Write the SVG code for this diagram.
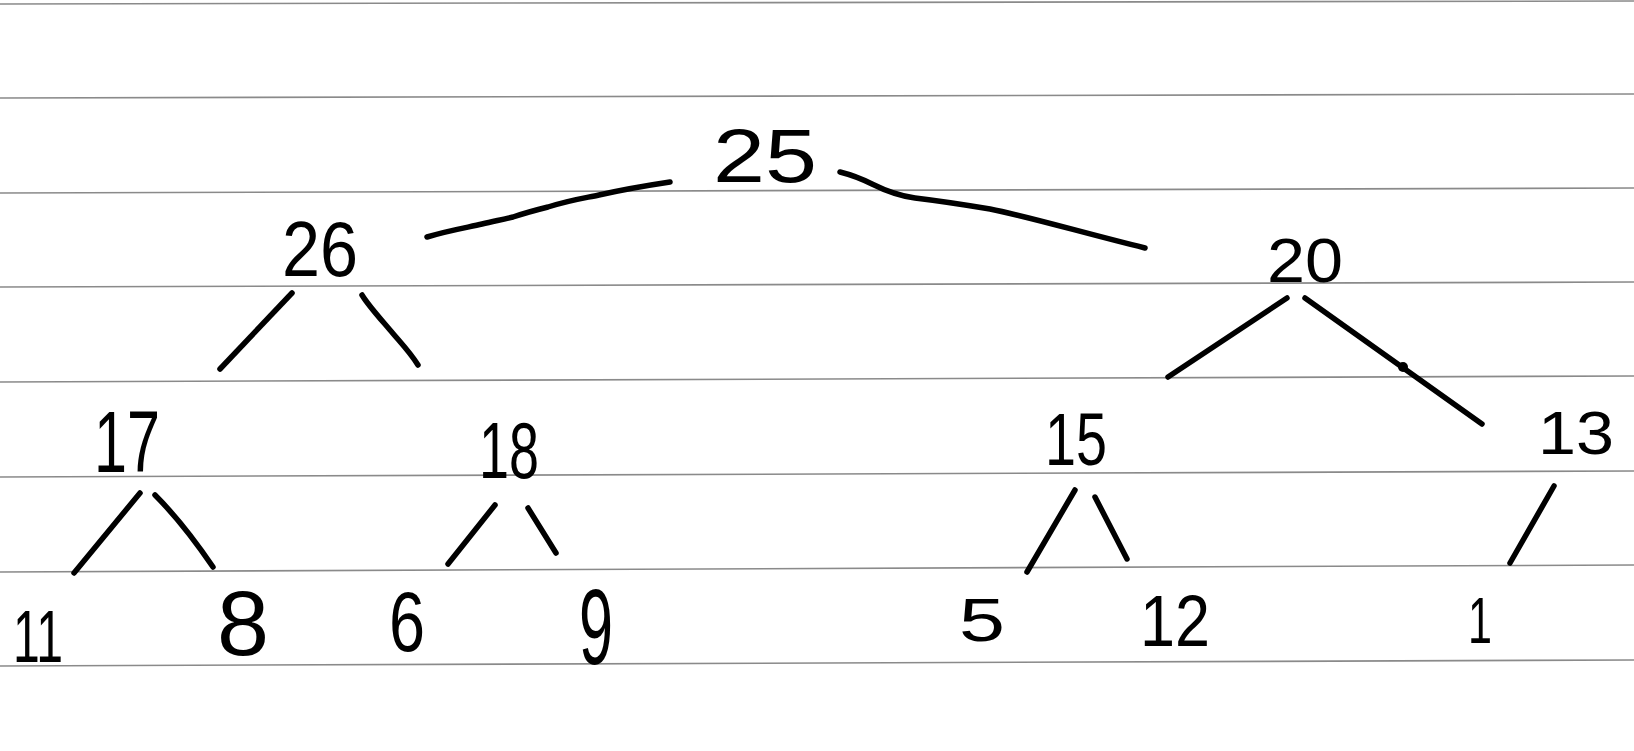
<svg xmlns="http://www.w3.org/2000/svg" width="1634" height="751" viewBox="0 0 1634 751">
<style>
.rule{stroke:#8a8a8a;stroke-width:1.6;fill:none}
.edge{stroke:#000;stroke-width:5.5;fill:none;stroke-linecap:round;stroke-linejoin:round}
.lbl{font-family:"Liberation Sans",Arial,sans-serif;fill:#000}
</style>
<rect width="1634" height="751" fill="#ffffff"/>
<g id="rules">
<line class="rule" x1="0" y1="4" x2="1634" y2="1"/>
<line class="rule" x1="0" y1="98" x2="1634" y2="94"/>
<line class="rule" x1="0" y1="193" x2="1634" y2="188"/>
<line class="rule" x1="0" y1="287" x2="1634" y2="282"/>
<line class="rule" x1="0" y1="382" x2="1634" y2="376"/>
<line class="rule" x1="0" y1="477" x2="1634" y2="471"/>
<line class="rule" x1="0" y1="572" x2="1634" y2="565"/>
<line class="rule" x1="0" y1="666" x2="1634" y2="660"/>
</g>
<g id="connectors">
<path class="edge" d="M427,237 C450,230 470,227 482,224 C495,221 505,219 513,217 C528,212 540,209 548,207 C570,200 585,198 599,195 C630,188 650,185 670,182"/>
<path class="edge" d="M840,172 C852,175 862,179 872,184 C888,192 900,196 915,198 C940,201 960,204 990,209 C1030,217 1080,232 1145,248"/>
<path class="edge" d="M292,293 L220,369"/>
<path class="edge" d="M362,295 C368,305 378,316 390,330 C400,342 410,352 418,365"/>
<path class="edge" d="M1287,298 L1168,377"/>
<path class="edge" d="M1305,298 L1482,424"/>
<circle cx="1403" cy="367" r="5" fill="#000"/>
<path class="edge" d="M140,493 L74,573"/>
<path class="edge" d="M155,495 C175,515 198,545 213,567"/>
<path class="edge" d="M495,505 L448,564"/>
<path class="edge" d="M528,508 L556,553"/>
<path class="edge" d="M1075,490 L1027,572"/>
<path class="edge" d="M1095,497 L1127,559"/>
<path class="edge" d="M1554,486 L1510,563"/>
</g>
<g id="n25"><text class="lbl" x="765" y="182" font-size="76" text-anchor="middle" textLength="104" lengthAdjust="spacingAndGlyphs">25</text></g>
<g id="n26"><text class="lbl" x="320" y="276" font-size="78" text-anchor="middle" textLength="76" lengthAdjust="spacingAndGlyphs">26</text></g>
<g id="n20"><text class="lbl" x="1305" y="282" font-size="63" text-anchor="middle" textLength="76" lengthAdjust="spacingAndGlyphs">20</text></g>
<g id="n17"><text class="lbl" x="127" y="472" font-size="88" text-anchor="middle" textLength="66" lengthAdjust="spacingAndGlyphs">17</text></g>
<g id="n18"><text class="lbl" x="509" y="478" font-size="80" text-anchor="middle" textLength="60" lengthAdjust="spacingAndGlyphs">18</text></g>
<g id="n15"><text class="lbl" x="1076" y="465" font-size="74" text-anchor="middle" textLength="62" lengthAdjust="spacingAndGlyphs">15</text></g>
<g id="n13"><text class="lbl" x="1576" y="454" font-size="62" text-anchor="middle" textLength="76" lengthAdjust="spacingAndGlyphs">13</text></g>
<g id="n11"><text class="lbl" x="38" y="662" font-size="74" text-anchor="middle" textLength="50" lengthAdjust="spacingAndGlyphs">11</text></g>
<g id="n8"><text class="lbl" x="243" y="655" font-size="90" text-anchor="middle" textLength="52" lengthAdjust="spacingAndGlyphs">8</text></g>
<g id="n6"><text class="lbl" x="407" y="651" font-size="86" text-anchor="middle" textLength="36" lengthAdjust="spacingAndGlyphs">6</text></g>
<g id="n9"><text class="lbl" x="596" y="664" font-size="108" text-anchor="middle" textLength="34" lengthAdjust="spacingAndGlyphs">9</text></g>
<g id="n5"><text class="lbl" x="982" y="641" font-size="62" text-anchor="middle" textLength="46" lengthAdjust="spacingAndGlyphs">5</text></g>
<g id="n12"><text class="lbl" x="1175" y="646" font-size="72" text-anchor="middle" textLength="70" lengthAdjust="spacingAndGlyphs">12</text></g>
<g id="n1"><text class="lbl" x="1480" y="643" font-size="64" text-anchor="middle" textLength="24" lengthAdjust="spacingAndGlyphs">1</text></g>
</svg>
